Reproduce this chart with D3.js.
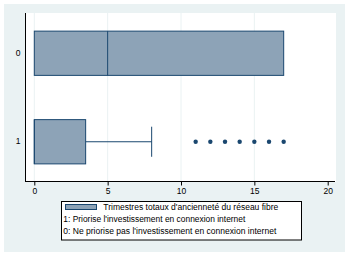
<!DOCTYPE html>
<html><head><meta charset="utf-8">
<script src="https://cdn.jsdelivr.net/npm/d3@7"></script>
<style>body{margin:0;background:#fff}svg{display:block}text{font-family:"Liberation Sans",Arial,sans-serif}</style>
</head><body>
<script>
const groups = ["0", "1"];
const q1 = [0, 0];
const median = [5, 0];
const q3 = [17, 3.5];
const whiskerLow = [0, 0];
const whiskerHigh = [17, 8];
const outliers = [[], [11, 12, 13, 14, 15, 16, 17]];
const xTicks = [0, 5, 10, 15, 20];
const legendLabels = ["Trimestres totaux d'ancienneté du réseau fibre",
  "1: Priorise l'investissement en connexion internet",
  "0: Ne priorise pas l'investissement en connexion internet"];

const W = 349, H = 256;
const svg = d3.select("body").append("svg").attr("width", W).attr("height", H);
const bg = "#eaf2f3", fill = "#8da3b7", stroke = "#1a476f";
svg.append("rect").attr("x", 4).attr("y", 4).attr("width", 341).attr("height", 248).attr("fill", bg);
svg.append("rect").attr("x", 25).attr("y", 13).attr("width", 311).attr("height", 169).attr("fill", "#fff");

const x = d3.scaleLinear().domain([0, 20]).range([34.3, 327.7]);
const y = d3.scaleBand().domain(groups).range([9, 186]).paddingInner(0.5).paddingOuter(0.25);

// grid
svg.append("g").selectAll("line").data(xTicks.filter(t => t < 20)).join("line")
  .attr("x1", d => x(d)).attr("x2", d => x(d)).attr("y1", 13).attr("y2", 181)
  .attr("stroke", bg).attr("stroke-width", 1);

// boxes
groups.forEach((g, i) => {
  const cy = y(g) + y.bandwidth() / 2;
  const gg = svg.append("g");
  if (whiskerHigh[i] > q3[i]) {
    gg.append("line").attr("x1", x(q3[i])).attr("x2", x(whiskerHigh[i])).attr("y1", cy).attr("y2", cy)
      .attr("stroke", stroke).attr("stroke-width", 1);
    gg.append("line").attr("x1", x(whiskerHigh[i])).attr("x2", x(whiskerHigh[i]))
      .attr("y1", cy - y.bandwidth() * 0.34).attr("y2", cy + y.bandwidth() * 0.34)
      .attr("stroke", stroke).attr("stroke-width", 1);
  }
  gg.append("rect").attr("x", x(q1[i])).attr("y", y(g)).attr("width", x(q3[i]) - x(q1[i]))
    .attr("height", y.bandwidth()).attr("fill", fill).attr("stroke", stroke).attr("stroke-width", 1);
  gg.append("line").attr("x1", x(median[i])).attr("x2", x(median[i])).attr("y1", y(g)).attr("y2", y(g) + y.bandwidth())
    .attr("stroke", stroke).attr("stroke-width", 1);
  gg.selectAll("circle").data(outliers[i]).join("circle")
    .attr("cx", d => x(d)).attr("cy", cy).attr("r", 2.2).attr("fill", stroke);
});

// axes
const xAxis = d3.axisBottom(x).tickValues(xTicks).tickSize(4).tickPadding(2);
const gx = svg.append("g").attr("transform", "translate(0,181.5)").call(xAxis);
gx.select(".domain").attr("d", "M25,0H335").attr("stroke", "#000");
gx.selectAll(".tick line").attr("stroke", "#000");
gx.selectAll("text").attr("font-size", 8.5).attr("fill", "#000");

const yAxis = d3.axisLeft(y).tickSize(0).tickPadding(5);
const gy = svg.append("g").attr("transform", "translate(25.5,0)").call(yAxis);
gy.select(".domain").attr("d", "M0,13V182").attr("stroke", "#000");
gy.selectAll("text").attr("font-size", 8.5).attr("fill", "#000");

// legend
const lg = svg.append("g");
lg.append("rect").attr("x", 61.5).attr("y", 201.5).attr("width", 240).attr("height", 38.5)
  .attr("fill", "#fff").attr("stroke", "#000").attr("stroke-width", 1);
lg.append("rect").attr("x", 65.5).attr("y", 204.5).attr("width", 31).attr("height", 5)
  .attr("fill", fill).attr("stroke", stroke).attr("stroke-width", 1);
const rows = [[103.3, 206.7], [63.3, 219], [63.3, 231.3]];
const widths = [175, 182, 213];
legendLabels.forEach((t, i) => {
  lg.append("text").attr("x", rows[i][0]).attr("y", rows[i][1]).attr("dy", "0.35em")
    .attr("font-size", 8.5).attr("fill", "#000")
    .attr("textLength", widths[i]).attr("lengthAdjust", "spacingAndGlyphs").text(t);
});
</script>
</body></html>
